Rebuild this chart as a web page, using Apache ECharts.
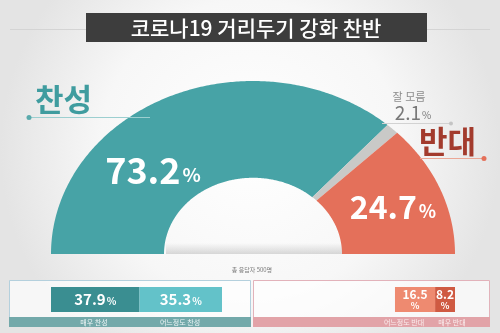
<!DOCTYPE html>
<html><head><meta charset="utf-8">
<script src="https://cdn.jsdelivr.net/npm/echarts@6/dist/echarts.min.js"></script>
<style>html,body{margin:0;padding:0;background:#fff}#c{width:500px;height:333px;}</style>
</head><body><div id="c"></div>
<script>
// ---- data ----
const chartTitle = '코로나19 거리두기 강화 찬반';
const mainCategories = ['찬성', '잘 모름', '반대'];
const mainValues = [73.2, 2.1, 24.7];
const forCategories = ['매우 찬성', '어느정도 찬성'];
const forValues = [37.9, 35.3];
const againstCategories = ['매우 반대', '어느정도 반대'];
const againstValues = [8.2, 16.5];
const noteText = '총 응답자 500명';

// ---- style ----
const FONT = '"Noto Sans CJK KR", "Noto Sans", sans-serif';
const mainColors = ['#47a3a6', '#c9c9c7', '#e4705a'];
const forColors = ['#3a8e91', '#63c2c9'];
const againstColors = ['#cf5a42', '#ee8a70'];
const INNER = 89 / 202;

let cum = 0;
const donutData = mainValues.map((v, i) => {
  const s = cum; cum += v;
  return { name: mainCategories[i], value: [s, cum, v] };
});

function arc(a0, a1, r) {
  const pts = [];
  const n = Math.max(2, Math.ceil(Math.abs(a1 - a0) / 0.01));
  for (let i = 0; i <= n; i++) {
    const a = a0 + (a1 - a0) * i / n;
    pts.push([r * Math.cos(a), r * Math.sin(a)]);
  }
  return pts;
}

function pct(v) {
  return '{n|' + v + '}{p|%}';
}

const chart = echarts.init(document.getElementById('c'));
chart.setOption({
  backgroundColor: {
    type: 'radial', x: 0.5, y: 0.45, r: 0.75,
    colorStops: [{ offset: 0, color: '#ffffff' }, { offset: 0.6, color: '#f7f7f7' }, { offset: 1, color: '#e4e4e4' }]
  },
  animation: false,
  grid: [
    { left: 51, right: 45, top: 81, bottom: 79 },
    { left: 51, top: 287, height: 25, width: 233.6 },
    { left: 212, top: 287, height: 25, width: 243 }
  ],
  xAxis: [
    { gridIndex: 0, type: 'value', min: -1, max: 1, show: false },
    { gridIndex: 1, type: 'value', min: 0, max: 100, show: false },
    { gridIndex: 2, type: 'value', min: 0, max: 100, inverse: true, show: false }
  ],
  yAxis: [
    { gridIndex: 0, type: 'value', min: 0, max: 1, show: false },
    { gridIndex: 1, type: 'category', data: ['x'], show: false },
    { gridIndex: 2, type: 'category', data: ['x'], show: false }
  ],
  series: [
    {
      type: 'custom', xAxisIndex: 0, yAxisIndex: 0, clip: false, z: 3,
      data: donutData,
      renderItem: function (params, api) {
        const s = api.value(0), e = api.value(1);
        const a0 = Math.PI * (1 - s / 100), a1 = Math.PI * (1 - e / 100);
        const pts = arc(a0, a1, 1).concat(arc(a1, a0, INNER)).map(p => api.coord(p));
        return { type: 'polygon', shape: { points: pts }, style: { fill: mainColors[params.dataIndex] } };
      }
    },
    ...forValues.map((v, i) => ({
      type: 'bar', xAxisIndex: 1, yAxisIndex: 1, stack: 'for', barWidth: '100%',
      name: forCategories[i], data: [v], itemStyle: { color: forColors[i] },
      label: {
        show: true, position: 'inside', formatter: pct(v),
        rich: {
          n: { fontFamily: FONT, fontSize: 15, fontWeight: 'bold', color: '#fff' },
          p: { fontFamily: FONT, fontSize: 10, fontWeight: 'bold', color: '#fff', padding: [3, 0, 0, 1] }
        }
      }
    })),
    ...againstValues.map((v, i) => ({
      type: 'bar', xAxisIndex: 2, yAxisIndex: 2, stack: 'against', barWidth: '100%',
      name: againstCategories[i], data: [v], itemStyle: { color: againstColors[i] },
      label: {
        show: true, position: 'inside', formatter: '{n|' + v + '}\n{p|%}',
        rich: {
          n: { fontFamily: FONT, fontSize: 12, fontWeight: 'bold', color: '#fff', lineHeight: 13 },
          p: { fontFamily: FONT, fontSize: 9, fontWeight: 'bold', color: '#fff', lineHeight: 11, align: 'center' }
        }
      }
    }))
  ],
  graphic: [
    { type: 'line', shape: { x1: 10, y1: 29.5, x2: 490, y2: 29.5 }, style: { stroke: '#d4d4d4', lineWidth: 1 }, z: 0 },
    { type: 'rect', shape: { x: 86, y: 13, width: 341, height: 29 }, style: { fill: '#3d3d3d' }, z: 1 },
    { type: 'text', x: 256, y: 28, style: { text: chartTitle, fill: '#fff', font: '500 21px ' + FONT, textAlign: 'center', textVerticalAlign: 'middle' }, z: 2 },

    // hole shadow
    { type: 'rect', shape: { x: 166, y: 243, width: 177, height: 11 }, style: { fill: { type: 'linear', x: 0, y: 0, x2: 0, y2: 1, colorStops: [{ offset: 0, color: 'rgba(150,150,150,0)' }, { offset: 1, color: 'rgba(150,150,150,0.35)' }] } }, z: 1 },

    // 찬성 label
    { type: 'text', x: 35, y: 99, style: { text: mainCategories[0], fill: '#3f9c9f', font: 'bold 31px ' + FONT, textVerticalAlign: 'middle' }, z: 5 },
    { type: 'line', shape: { x1: 29, y1: 117.5, x2: 150, y2: 117.5 }, style: { stroke: '#9ccfd0', lineWidth: 1 }, z: 5 },
    { type: 'circle', shape: { cx: 29, cy: 117.5, r: 2.5 }, style: { fill: '#5aaaac' }, z: 6 },

    // 잘 모름 label
    { type: 'text', x: 409, y: 97, style: { text: mainCategories[1], fill: '#8c8c8c', font: '11px ' + FONT, textAlign: 'center', textVerticalAlign: 'middle' }, z: 5 },
    { type: 'text', x: 413, y: 113, style: { text: pct(mainValues[1]), textAlign: 'center', textVerticalAlign: 'middle', fill: '#787878',
        rich: { n: { fontFamily: FONT, fontSize: 19, fill: '#787878' }, p: { fontFamily: FONT, fontSize: 10, fill: '#787878', padding: [5, 0, 0, 1] } } }, z: 5 },
    { type: 'line', shape: { x1: 382, y1: 123.5, x2: 451, y2: 123.5 }, style: { stroke: '#d2d2d2', lineWidth: 1 }, z: 5 },
    { type: 'circle', shape: { cx: 451, cy: 123.5, r: 2 }, style: { fill: '#c4c4c4' }, z: 6 },

    // 반대 label
    { type: 'text', x: 419, y: 141, style: { text: mainCategories[2], fill: '#a33b2d', font: 'bold 31px ' + FONT, textVerticalAlign: 'middle' }, z: 5 },
    { type: 'line', shape: { x1: 420, y1: 158.5, x2: 484, y2: 158.5 }, style: { stroke: '#eba796', lineWidth: 1 }, z: 5 },
    { type: 'circle', shape: { cx: 484, cy: 158.5, r: 2.5 }, style: { fill: '#e4705a' }, z: 6 },

    // values on donut
    { type: 'text', x: 153, y: 170, style: { text: pct(mainValues[0]), textAlign: 'center', textVerticalAlign: 'middle', fill: '#fff',
        rich: { n: { fontFamily: FONT, fontSize: 36, fontWeight: 'bold', fill: '#fff' }, p: { fontFamily: FONT, fontSize: 19, fontWeight: 'bold', fill: '#fff', padding: [10, 0, 0, 2] } } }, z: 10 },
    { type: 'text', x: 393, y: 207, style: { text: pct(mainValues[2]), textAlign: 'center', textVerticalAlign: 'middle', fill: '#fff',
        rich: { n: { fontFamily: FONT, fontSize: 32, fontWeight: 'bold', fill: '#fff' }, p: { fontFamily: FONT, fontSize: 18, fontWeight: 'bold', fill: '#fff', padding: [8, 0, 0, 2] } } }, z: 10 },

    { type: 'text', x: 252, y: 270, style: { text: noteText, fill: '#7a7a7a', font: '6px ' + FONT, textAlign: 'center', textVerticalAlign: 'middle' }, z: 5 },

    // bottom panels
    { type: 'rect', shape: { x: 9.5, y: 280.5, width: 241, height: 46 }, style: { fill: 'rgba(255,255,255,0.7)', stroke: '#b4d0dd', lineWidth: 1 }, z: 0 },
    { type: 'rect', shape: { x: 9, y: 317, width: 242, height: 10 }, style: { fill: '#73a9aa' }, z: 1 },
    { type: 'rect', shape: { x: 253.5, y: 280.5, width: 236, height: 46 }, style: { fill: 'rgba(255,255,255,0.7)', stroke: '#e2b2ba', lineWidth: 1 }, z: 0 },
    { type: 'rect', shape: { x: 253, y: 317, width: 237, height: 10 }, style: { fill: '#e2a3a8' }, z: 1 },
    { type: 'text', x: 94, y: 322, style: { text: forCategories[0], fill: '#eef6f6', font: '7px ' + FONT, textAlign: 'center', textVerticalAlign: 'middle' }, z: 2 },
    { type: 'text', x: 180, y: 322, style: { text: forCategories[1], fill: '#eef6f6', font: '7px ' + FONT, textAlign: 'center', textVerticalAlign: 'middle' }, z: 2 },
    { type: 'text', x: 404, y: 322, style: { text: againstCategories[1], fill: '#fbeeee', font: '7px ' + FONT, textAlign: 'center', textVerticalAlign: 'middle' }, z: 2 },
    { type: 'text', x: 452, y: 322, style: { text: againstCategories[0], fill: '#fbeeee', font: '7px ' + FONT, textAlign: 'center', textVerticalAlign: 'middle' }, z: 2 }
  ]
});
</script>
</body></html>
